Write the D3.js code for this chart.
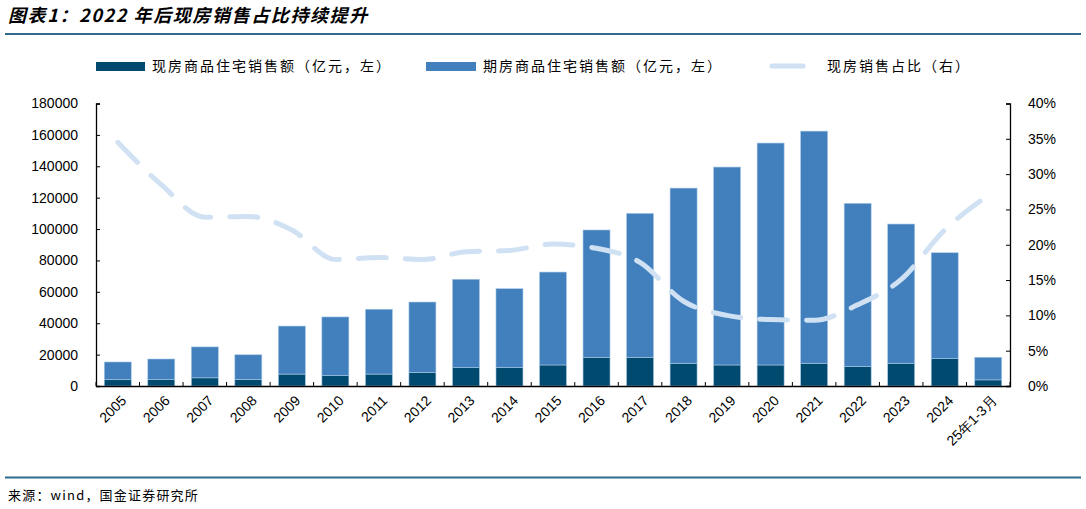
<!DOCTYPE html>
<html>
<head>
<meta charset="utf-8">
<script src="https://cdn.jsdelivr.net/npm/d3@7"></script>
<style>
  body { margin: 0; background: #fff; }
  svg text { fill: #000; }
</style>
</head>
<body>
<svg id="chart" width="1086" height="509"></svg>
<script>
// categories and values
let years = ["2005","2006","2007","2008","2009","2010","2011","2012","2013","2014","2015",
             "2016","2017","2018","2019","2020","2021","2022","2023","2024","25年1-3月"]
// 现房商品住宅销售额（亿元）
let xianfang = [4000,4100,5200,4200,7600,6600,7600,8700,11700,11700,13400,
                18300,18300,14500,13400,13400,14500,12500,14500,17400,3900]
// 期房商品住宅销售额（亿元）
let qifang = [11300,13100,19700,15700,30600,37400,41300,44800,56300,50300,59200,
              81100,91700,111600,126100,141400,147900,103900,88700,67500,14400]
// 现房销售占比（%）
let share = [34.5,28.5,23.9,24.0,22.1,17.9,18.2,17.9,19.0,19.2,20.1,
             19.5,17.5,12.0,10.0,9.4,9.3,11.5,15.1,22.1,27.0]
let leftTicks = [0,20000,40000,60000,80000,100000,120000,140000,160000,180000]
let rightTicks = [0,0.05,0.1,0.15,0.2,0.25,0.3,0.35,0.4]

let darkBlue = "#004a70"
let midBlue = "#417fbd"
let lineBlue = "#cfe1f2"
let rule = "#2f6b8e"
let cjk = "'Noto Sans CJK SC', sans-serif"
let num = "'Liberation Sans', Arial, sans-serif"

let svg = d3.select('#chart')

// title
svg.append('text')
   .attr('x', 8).attr('y', 22)
   .style('font-family', cjk)
   .style('font-size', '18px')
   .style('font-weight', 'bold')
   .style('font-style', 'italic')
   .style('letter-spacing', '1.6px')
   .text('图表1：2022 年后现房销售占比持续提升')

svg.append('line')
   .attr('x1', 5).attr('x2', 1081).attr('y1', 34).attr('y2', 34)
   .attr('stroke', rule).attr('stroke-width', 2)

svg.append('line')
   .attr('x1', 5).attr('x2', 1081).attr('y1', 477.5).attr('y2', 477.5)
   .attr('stroke', rule).attr('stroke-width', 2)

svg.append('text')
   .attr('x', 8).attr('y', 500)
   .style('font-family', cjk)
   .style('font-size', '13px')
   .style('letter-spacing', '1.2px')
   .text('来源：wind，国金证券研究所')

// scales
let x = d3.scaleBand()
          .domain(years)
          .range([96, 1010])
          .paddingInner(0.38)
          .paddingOuter(0.19)

let yLeft = d3.scaleLinear().domain([0, 180000]).range([386, 103.5])
let yRight = d3.scaleLinear().domain([0, 0.4]).range([386, 103.5])

// stacked bars
let rows = years.map((y, i) => {
    return { year: y, xianfang: xianfang[i], qifang: qifang[i] }
})
let stack = d3.stack().keys(['xianfang', 'qifang'])(rows)
let colors = { xianfang: darkBlue, qifang: midBlue }

svg.append('g')
   .selectAll('g')
   .data(stack)
   .enter()
   .append('g')
   .attr('fill', (s) => colors[s.key])
   .selectAll('rect')
   .data((s) => s)
   .enter()
   .append('rect')
   .attr('x', (d) => x(d.data.year))
   .attr('width', x.bandwidth())
   .attr('y', (d) => yLeft(d[1]))
   .attr('height', (d) => yLeft(d[0]) - yLeft(d[1]))
   .attr('stroke', '#a8c8e6')
   .attr('stroke-width', 0.6)

// share line
let line = d3.line()
             .x((d, i) => x(years[i]) + x.bandwidth() / 2)
             .y((d) => yRight(d / 100))
             .curve(d3.curveMonotoneX)

svg.append('path')
   .datum(share)
   .attr('d', line)
   .attr('fill', 'none')
   .attr('stroke', lineBlue)
   .attr('stroke-width', 5)
   .attr('stroke-linecap', 'round')
   .attr('stroke-dasharray', '28,19')

// axes
let leftAxis = d3.axisLeft(yLeft).tickValues(leftTicks).tickSize(-4).tickPadding(18)
                 .tickFormat(d3.format('d'))
let gl = svg.append('g').attr('transform', 'translate(96,0)').call(leftAxis)

let rightAxis = d3.axisRight(yRight).tickValues(rightTicks).tickSize(-4).tickPadding(18)
                  .tickFormat(d3.format('.0%'))
let gr = svg.append('g').attr('transform', 'translate(1010,0)').call(rightAxis)

let xAxis = d3.axisBottom(x).tickSize(0).tickFormat('')
let gx = svg.append('g').attr('transform', 'translate(0,386)').call(xAxis)

// small ticks between categories
let step = x.step()
let bounds = years.map((y) => x(y) - step * 0.19)
bounds.push(1010)
svg.append('g')
   .selectAll('line')
   .data(bounds)
   .enter()
   .append('line')
   .attr('x1', (d) => d).attr('x2', (d) => d)
   .attr('y1', 382).attr('y2', 386)
   .attr('stroke', '#000').attr('stroke-width', 1)

;[gl, gr, gx].forEach((g) => {
    g.select('.domain').attr('stroke', '#000').attr('stroke-width', 1.3)
    g.selectAll('.tick line').attr('stroke', '#000')
    g.selectAll('text')
     .style('font-family', num)
     .style('font-size', '14px')
     .attr('fill', '#000')
})

// rotated category labels
svg.append('g')
   .selectAll('text')
   .data(years)
   .enter()
   .append('text')
   .attr('transform', (d) => {
       let cx = x(d) + x.bandwidth() / 2 + 6
       return 'translate(' + cx + ',398) rotate(-45)'
   })
   .attr('text-anchor', 'end')
   .attr('dy', '0.35em')
   .style('font-family', num)
   .style('font-size', '14px')
   .text((d) => d)

// legend
let legend = svg.append('g').style('font-family', cjk).style('font-size', '14px')
                .style('letter-spacing', '2px')

legend.append('rect').attr('x', 96).attr('y', 62).attr('width', 49).attr('height', 9).attr('fill', darkBlue)
legend.append('text').attr('x', 152).attr('y', 71).text('现房商品住宅销售额（亿元，左）')

legend.append('rect').attr('x', 426).attr('y', 62).attr('width', 50).attr('height', 9).attr('fill', midBlue)
legend.append('text').attr('x', 483).attr('y', 71).text('期房商品住宅销售额（亿元，左）')

legend.append('line').attr('x1', 772).attr('x2', 803).attr('y1', 66).attr('y2', 66)
      .attr('stroke', lineBlue).attr('stroke-width', 5).attr('stroke-linecap', 'round')
legend.append('text').attr('x', 827).attr('y', 71).text('现房销售占比（右）')
</script>
</body>
</html>
